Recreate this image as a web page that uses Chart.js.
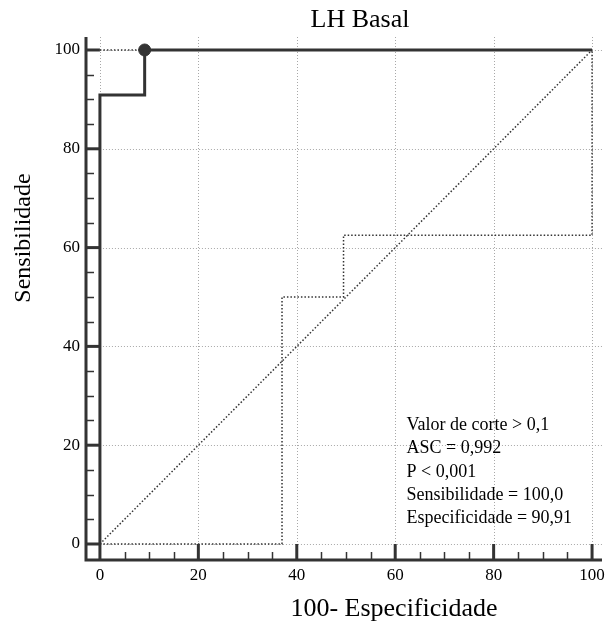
<!DOCTYPE html>
<html>
<head>
<meta charset="utf-8">
<script src="https://cdn.jsdelivr.net/npm/chart.js@4"></script>
<style>
  html, body { margin: 0; padding: 0; background: #fff; }
  #wrap { width: 609px; height: 623px; }
</style>
</head>
<body>
<div id="wrap"><canvas id="roc"></canvas></div>
<script>
// ROC curve (100 - especificidade vs sensibilidade)
const rocX = [0, 0, 9.09, 9.09, 100];
const rocY = [0, 90.91, 90.91, 100, 100];

// lower dotted bound
const lowX = [0, 37, 37, 49.5, 49.5, 100, 100];
const lowY = [0, 0, 50, 50, 62.5, 62.5, 100];

// upper dotted bound
const upX = [0, 9.09];
const upY = [100, 100];

// reference diagonal
const diagX = [0, 100];
const diagY = [0, 100];

// optimal cut-off point
const cutX = [9.09];
const cutY = [100];

const tickVals = [0, 20, 40, 60, 80, 100];
const minorVals = [5, 10, 15, 25, 30, 35, 45, 50, 55, 65, 70, 75, 85, 90, 95];

const statLines = [
    'Valor de corte > 0,1',
    'ASC = 0,992',
    'P < 0,001',
    'Sensibilidade = 100,0',
    'Especificidade = 90,91'
];

const dark = '#333333';
const serif = '"Liberation Serif", "Times New Roman", serif';

const pts = (xs, ys) => xs.map((x, i) => ({ x: x, y: ys[i] }));

// grid, axes, ticks and texts drawn the way the original software does it
const frame = {
    id: 'frame',
    beforeDatasetsDraw(chart) {
        const { ctx, chartArea: a, scales: { x, y } } = chart;
        ctx.save();
        ctx.strokeStyle = '#a8a8a8';
        ctx.lineWidth = 1;
        ctx.setLineDash([1, 2]);
        tickVals.forEach(v => {
            const px = Math.round(x.getPixelForValue(v)) + 0.5;
            ctx.beginPath();
            ctx.moveTo(px, a.top);
            ctx.lineTo(px, y.getPixelForValue(0));
            ctx.stroke();
            const py = Math.round(y.getPixelForValue(v)) + 0.5;
            ctx.beginPath();
            ctx.moveTo(x.getPixelForValue(0), py);
            ctx.lineTo(a.right, py);
            ctx.stroke();
        });
        ctx.restore();
    },
    afterDatasetsDraw(chart) {
        const { ctx, chartArea: a, scales: { x, y } } = chart;
        ctx.save();
        ctx.strokeStyle = dark;
        // axis lines
        ctx.lineWidth = 3;
        ctx.beginPath();
        ctx.moveTo(a.left, a.top);
        ctx.lineTo(a.left, a.bottom);
        ctx.lineTo(a.right, a.bottom);
        ctx.stroke();
        // major ticks reach the zero line
        const x0 = x.getPixelForValue(0);
        const y0 = y.getPixelForValue(0);
        tickVals.forEach(v => {
            const px = x.getPixelForValue(v);
            ctx.beginPath();
            ctx.moveTo(px, a.bottom);
            ctx.lineTo(px, y0);
            ctx.stroke();
            const py = y.getPixelForValue(v);
            ctx.beginPath();
            ctx.moveTo(a.left, py);
            ctx.lineTo(x0, py);
            ctx.stroke();
        });
        ctx.lineWidth = 1.5;
        minorVals.forEach(v => {
            const px = Math.round(x.getPixelForValue(v)) + 0.5;
            ctx.beginPath();
            ctx.moveTo(px, a.bottom);
            ctx.lineTo(px, a.bottom - 8);
            ctx.stroke();
            const py = Math.round(y.getPixelForValue(v)) + 0.5;
            ctx.beginPath();
            ctx.moveTo(a.left, py);
            ctx.lineTo(a.left + 8, py);
            ctx.stroke();
        });

        ctx.fillStyle = '#000';
        ctx.textBaseline = 'middle';
        // tick labels
        ctx.font = '17px ' + serif;
        ctx.textAlign = 'center';
        tickVals.forEach(v => ctx.fillText(String(v), x.getPixelForValue(v), a.bottom + 16));
        ctx.textAlign = 'right';
        tickVals.forEach(v => ctx.fillText(String(v), a.left - 6, y.getPixelForValue(v)));

        // statistics box
        ctx.textAlign = 'left';
        ctx.font = '18px ' + serif;
        const tx = x.getPixelForValue(62.3);
        statLines.forEach((s, i) => {
            ctx.fillText(s, tx, y.getPixelForValue(24) + i * 23.3);
        });

        // titles
        ctx.textAlign = 'center';
        ctx.textBaseline = 'alphabetic';
        ctx.font = '26px ' + serif;
        ctx.fillText('LH Basal', 360, 27);
        ctx.fillText('100- Especificidade', 394, 616);
        ctx.save();
        ctx.translate(30, 238);
        ctx.rotate(-Math.PI / 2);
        ctx.font = '24px ' + serif;
        ctx.fillText('Sensibilidade', 0, 0);
        ctx.restore();
        ctx.restore();
    }
};

const ctx = document.getElementById('roc').getContext('2d');
new Chart(ctx, {
    type: 'line',
    data: {
        datasets: [
            {
                data: pts(diagX, diagY),
                borderColor: dark,
                borderWidth: 1.5,
                borderDash: [1.5, 2],
                pointRadius: 0
            },
            {
                data: pts(lowX, lowY),
                borderColor: dark,
                borderWidth: 1.5,
                borderDash: [1.5, 2],
                pointRadius: 0
            },
            {
                data: pts(upX, upY),
                borderColor: dark,
                borderWidth: 1.5,
                borderDash: [1.5, 2],
                pointRadius: 0
            },
            {
                data: pts(rocX, rocY),
                borderColor: dark,
                borderWidth: 3,
                pointRadius: 0
            },
            {
                data: pts(cutX, cutY),
                showLine: false,
                pointRadius: 6,
                pointBackgroundColor: dark,
                pointBorderColor: dark
            }
        ]
    },
    options: {
        responsive: true,
        maintainAspectRatio: false,
        animation: false,
        layout: { padding: { left: 86, right: 5, top: 37, bottom: 63 } },
        plugins: {
            legend: { display: false },
            tooltip: { enabled: false },
            title: { display: false }
        },
        scales: {
            x: {
                type: 'linear',
                min: -2.83,
                max: 102.02,
                afterBuildTicks: s => { s.ticks = tickVals.map(v => ({ value: v })); },
                grid: { display: false, drawTicks: false },
                border: { display: false },
                ticks: { display: false },
                title: { display: false }
            },
            y: {
                type: 'linear',
                min: -3.24,
                max: 102.63,
                afterBuildTicks: s => { s.ticks = tickVals.map(v => ({ value: v })); },
                grid: { display: false, drawTicks: false },
                border: { display: false },
                ticks: { display: false },
                title: { display: false }
            }
        }
    },
    plugins: [frame]
});
</script>
</body>
</html>
